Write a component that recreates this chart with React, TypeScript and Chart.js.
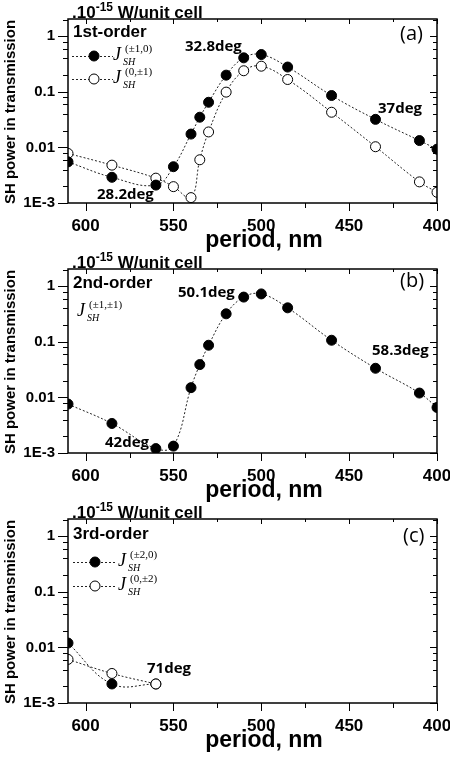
import React, { useEffect, useRef } from 'react';
import { Chart, registerables } from 'chart.js';

Chart.register(...registerables);

// ---------- data ----------
const xTickValues = [600, 550, 500, 450, 400];
const xMinorTicks = [575, 525, 475, 425];
const yTickValues = [1, 0.1, 0.01, 0.001];
const yTickLabels = ['1', '0.1', '0.01', '1E-3'];
const yMinorFactors = [2, 4, 6, 8];

const periodsFirst = [610, 585, 560, 550, 540, 535, 530, 520, 510, 500, 485, 460, 435, 410, 400];
const firstOrderPm1_0 = [0.0055, 0.0029, 0.0021, 0.0045, 0.0174, 0.035, 0.065, 0.2, 0.41, 0.47, 0.28, 0.086, 0.032, 0.0133, 0.0093];
const firstOrder0_pm1 = [0.0078, 0.0048, 0.0028, 0.00197, 0.00125, 0.006, 0.019, 0.099, 0.24, 0.29, 0.167, 0.043, 0.0103, 0.0024, 0.00156];

const periodsSecond = [610, 585, 560, 550, 540, 535, 530, 520, 510, 500, 485, 460, 435, 410, 400];
const secondOrderPm1_pm1 = [0.0076, 0.0034, 0.0012, 0.00133, 0.015, 0.039, 0.087, 0.32, 0.64, 0.73, 0.41, 0.107, 0.0335, 0.012, 0.0066];

const periodsThird = [610, 585, 560];
const thirdOrderPm2_0 = [0.012, 0.0022, 0.0022];
const thirdOrder0_pm2 = [0.0061, 0.0034, 0.0022];

// ---------- layout / style ----------
const AREA_TOP = 19;
const AREA_BOTTOM = 203;
const AREA_LEFT = 68;
const AREA_RIGHT = 437;
const Y_MIN = 0.001;
const Y_MAX = 2.05;
const SANS = '"Liberation Sans", Arial, sans-serif';
const CAL = '"Open Sans", "Noto Sans", sans-serif';
const SERIF = '"Liberation Serif", "DejaVu Serif", serif';

type Series = { xs: number[]; ys: number[]; filled: boolean };
type Note = { text: string; x: number; y: number };
type LegendRow = { sup: string; filled: boolean | null; y: number };
type PanelCfg = {
  key: string;
  order: string;
  letter: string;
  letterX: number;
  letterY: number;
  orderY: number;
  series: Series[];
  notes: Note[];
  legend: LegendRow[];
  legendLine: [number, number, number];
  legendJx: number;
};

const panels: PanelCfg[] = [
  {
    key: 'a',
    order: '1st-order',
    letter: '(a)',
    letterX: 400,
    letterY: 34,
    orderY: 32.5,
    series: [
      { xs: periodsFirst, ys: firstOrderPm1_0, filled: true },
      { xs: periodsFirst, ys: firstOrder0_pm1, filled: false },
    ],
    notes: [
      { text: '32.8deg', x: 185, y: 46.5 },
      { text: '37deg', x: 378, y: 109 },
      { text: '28.2deg', x: 97, y: 195 },
    ],
    legend: [
      { sup: '(\u00b11,0)', filled: true, y: 56 },
      { sup: '(0,\u00b11)', filled: false, y: 79 },
    ],
    legendLine: [72, 113, 94],
    legendJx: 113,
  },
  {
    key: 'b',
    order: '2nd-order',
    letter: '(b)',
    letterX: 400,
    letterY: 31,
    orderY: 33.5,
    series: [{ xs: periodsSecond, ys: secondOrderPm1_pm1, filled: true }],
    notes: [
      { text: '50.1deg', x: 178, y: 42.5 },
      { text: '58.3deg', x: 372, y: 101 },
      { text: '42deg', x: 105, y: 192.5 },
    ],
    legend: [{ sup: '(\u00b11,\u00b11)', filled: null, y: 62 }],
    legendLine: [0, 0, 0],
    legendJx: 77,
  },
  {
    key: 'c',
    order: '3rd-order',
    letter: '(c)',
    letterX: 403,
    letterY: 36,
    orderY: 34,
    series: [
      { xs: periodsThird, ys: thirdOrder0_pm2, filled: false },
      { xs: periodsThird, ys: thirdOrderPm2_0, filled: true },
    ],
    notes: [{ text: '71deg', x: 147, y: 169 }],
    legend: [
      { sup: '(\u00b12,0)', filled: true, y: 62 },
      { sup: '(0,\u00b12)', filled: false, y: 86 },
    ],
    legendLine: [73, 115, 95],
    legendJx: 118,
  },
];

function drawMarker(ctx: CanvasRenderingContext2D, x: number, y: number, filled: boolean) {
  ctx.save();
  ctx.setLineDash([]);
  ctx.beginPath();
  ctx.arc(x, y, 5, 0, Math.PI * 2);
  ctx.fillStyle = filled ? '#000' : '#fff';
  ctx.fill();
  ctx.lineWidth = 1;
  ctx.strokeStyle = '#000';
  ctx.stroke();
  ctx.restore();
}

function drawJ(ctx: CanvasRenderingContext2D, x: number, base: number, sup: string) {
  ctx.save();
  ctx.fillStyle = '#000';
  ctx.textAlign = 'left';
  ctx.textBaseline = 'alphabetic';
  ctx.font = `italic 18px ${SERIF}`;
  ctx.fillText('J', x, base);
  ctx.font = `italic 10px ${SERIF}`;
  ctx.fillText('SH', x + 10, base + 5);
  ctx.font = `11px ${SERIF}`;
  ctx.fillText(sup, x + 12, base - 8);
  ctx.restore();
}

function makeOverlay(cfg: PanelCfg) {
  return {
    id: 'overlay_' + cfg.key,
    afterDraw(chart: any) {
      const { ctx, chartArea: ca } = chart;
      const xs = chart.scales.x;
      const ys = chart.scales.y;
      ctx.save();
      ctx.strokeStyle = '#000';
      ctx.lineWidth = 1;
      ctx.setLineDash([]);
      ctx.beginPath();
      for (const v of yTickValues) {
        const py = Math.round(ys.getPixelForValue(v)) + 0.5;
        ctx.moveTo(ca.left - 10, py);
        ctx.lineTo(ca.left, py);
        ctx.moveTo(ca.right, py);
        ctx.lineTo(ca.right - 7, py);
        for (const f of yMinorFactors) {
          const val = v * f;
          if (val > Y_MAX) continue;
          const pm = Math.round(ys.getPixelForValue(val)) + 0.5;
          ctx.moveTo(ca.left - 5, pm);
          ctx.lineTo(ca.left, pm);
          ctx.moveTo(ca.right, pm);
          ctx.lineTo(ca.right - 4, pm);
        }
      }
      for (const v of xTickValues) {
        const px = Math.round(xs.getPixelForValue(v)) + 0.5;
        ctx.moveTo(px, ca.bottom);
        ctx.lineTo(px, ca.bottom + 8);
        ctx.moveTo(px, ca.top);
        ctx.lineTo(px, ca.top + 5);
      }
      for (const v of xMinorTicks) {
        const px = Math.round(xs.getPixelForValue(v)) + 0.5;
        ctx.moveTo(px, ca.bottom);
        ctx.lineTo(px, ca.bottom + 5);
        ctx.moveTo(px, ca.top);
        ctx.lineTo(px, ca.top + 3);
      }
      ctx.stroke();
      ctx.lineWidth = 1.5;
      ctx.strokeRect(ca.left, ca.top, ca.right - ca.left, ca.bottom - ca.top);

      // texts
      ctx.fillStyle = '#000';
      ctx.textBaseline = 'middle';
      ctx.textAlign = 'left';
      ctx.font = `bold 17px ${SANS}`;
      ctx.fillText(cfg.order, 73, cfg.orderY);
      ctx.font = `20px ${CAL}`;
      ctx.fillText(cfg.letter, cfg.letterX, cfg.letterY);
      ctx.font = `bold 15px ${CAL}`;
      for (const n of cfg.notes) ctx.fillText(n.text, n.x, n.y);

      // unit label
      ctx.textBaseline = 'alphabetic';
      let ux = 72;
      ctx.font = `bold 17px ${SANS}`;
      ctx.fillText('.10', ux, 17.5);
      ux += ctx.measureText('.10').width;
      ctx.font = `bold 12px ${SANS}`;
      ctx.fillText('-15', ux, 11);
      ux += ctx.measureText('-15').width;
      ctx.font = `bold 17px ${SANS}`;
      ctx.fillText(' W/unit cell', ux, 17.5);

      // axis titles
      ctx.textAlign = 'center';
      ctx.textBaseline = 'middle';
      ctx.font = `bold 23px ${SANS}`;
      ctx.fillText('period, nm', 264, ca.bottom + 38);
      ctx.save();
      ctx.translate(11, 112);
      ctx.rotate(-Math.PI / 2);
      ctx.font = `bold 15px ${SANS}`;
      ctx.fillText('SH power in transmission', 0, 0);
      ctx.restore();

      // legend
      const [lx1, lx2, lm] = cfg.legendLine;
      for (const row of cfg.legend) {
        if (row.filled !== null) {
          ctx.save();
          ctx.lineWidth = 1;
          ctx.strokeStyle = '#222';
          ctx.setLineDash([2, 2]);
          ctx.beginPath();
          ctx.moveTo(lx1, row.y + 0.5);
          ctx.lineTo(lx2, row.y + 0.5);
          ctx.stroke();
          ctx.restore();
          drawMarker(ctx, lm, row.y, row.filled);
        }
        drawJ(ctx, cfg.legendJx, row.y + 4, row.sup);
      }
      ctx.restore();
    },
  };
}

function Panel({ cfg, top, height }: { cfg: PanelCfg; top: number; height: number }) {
  const ref = useRef<HTMLCanvasElement>(null);
  useEffect(() => {
    const canvas = ref.current;
    if (!canvas) return;
    const chart = new Chart(canvas, {
      type: 'line',
      data: {
        datasets: cfg.series.map((s) => ({
          data: s.xs.map((x, i) => ({ x, y: s.ys[i] })),
          borderColor: '#222',
          borderWidth: 1,
          borderDash: [2, 2],
          tension: 0.4,
          fill: false,
          pointRadius: 5,
          pointHoverRadius: 5,
          pointBorderWidth: 1,
          pointBorderColor: '#000',
          pointBackgroundColor: s.filled ? '#000' : '#fff',
        })),
      },
      options: {
        animation: false,
        responsive: false,
        devicePixelRatio: 1,
        events: [],
        layout: { padding: { top: AREA_TOP, right: 450 - AREA_RIGHT, left: 0, bottom: 0 } },
        plugins: { legend: { display: false }, tooltip: { enabled: false }, title: { display: false } },
        scales: {
          x: {
            type: 'linear',
            reverse: true,
            min: 400,
            max: 610,
            grid: { display: false, drawTicks: false },
            border: { display: false },
            afterBuildTicks: (s: any) => {
              s.ticks = xTickValues.map((v) => ({ value: v }));
            },
            afterFit: (s: any) => {
              s.height = height - AREA_BOTTOM;
              s.paddingLeft = 0;
              s.paddingRight = 0;
            },
            ticks: {
              autoSkip: false,
              maxRotation: 0,
              padding: 13,
              color: '#000',
              font: { family: SANS, size: 17, weight: 'bold' },
              callback: (v: any) => String(v),
            },
          },
          y: {
            type: 'logarithmic',
            min: Y_MIN,
            max: Y_MAX,
            grid: { display: false, drawTicks: false },
            border: { display: false },
            afterBuildTicks: (s: any) => {
              s.ticks = yTickValues.map((v) => ({ value: v }));
            },
            afterFit: (s: any) => {
              s.width = AREA_LEFT;
              s.paddingTop = 0;
              s.paddingBottom = 0;
            },
            ticks: {
              autoSkip: false,
              padding: 13,
              color: '#000',
              font: { family: SANS, size: 15, weight: 'bold' },
              callback: (v: any) => {
                const i = yTickValues.indexOf(Number(v));
                return i >= 0 ? yTickLabels[i] : '';
              },
            },
          },
        },
      } as any,
      plugins: [makeOverlay(cfg)],
    });
    return () => chart.destroy();
  }, [cfg, height]);
  return (
    <canvas
      ref={ref}
      width={450}
      height={height}
      style={{ position: 'absolute', left: 0, top, width: 450, height, display: 'block' }}
    />
  );
}

export default function App() {
  useEffect(() => {
    document.body.style.margin = '0';
  }, []);
  return (
    <div style={{ position: 'absolute', left: 0, top: 0, width: 450, height: 759, background: '#fff', overflow: 'hidden' }}>
      {panels.map((p, i) => (
        <Panel key={p.key} cfg={p} top={i * 250} height={i === 2 ? 259 : 260} />
      ))}
    </div>
  );
}
